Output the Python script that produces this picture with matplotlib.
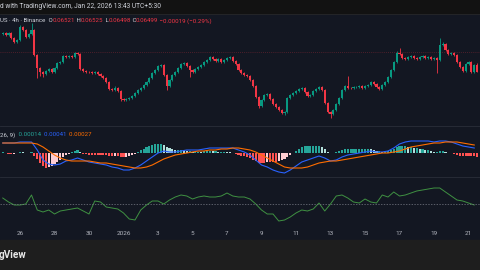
import matplotlib
matplotlib.use("Agg")
import matplotlib.pyplot as plt
import numpy as np
from matplotlib.patches import Rectangle
from matplotlib.lines import Line2D

# ---- data (4h candles, Dec 25 -> Jan 22) ----
closes = [
    0.06616, 0.06610, 0.06616, 0.06601, 0.06589, 0.06595, 0.06634, 0.06625, 0.06604, 0.06613,
    0.06625, 0.06550, 0.06511, 0.06499, 0.06493, 0.06502, 0.06508, 0.06499, 0.06511, 0.06526,
    0.06529, 0.06547, 0.06544, 0.06547, 0.06544, 0.06556, 0.06553, 0.06508, 0.06502, 0.06499,
    0.06498, 0.06496, 0.06499, 0.06493, 0.06487, 0.06481, 0.06469, 0.06448, 0.06445, 0.06451,
    0.06442, 0.06418, 0.06415, 0.06418, 0.06421, 0.06427, 0.06436, 0.06445, 0.06451, 0.06460,
    0.06469, 0.06481, 0.06496, 0.06505, 0.06517, 0.06520, 0.06490, 0.06457, 0.06475, 0.06490,
    0.06499, 0.06511, 0.06523, 0.06526, 0.06517, 0.06505, 0.06499, 0.06508, 0.06514, 0.06520,
    0.06529, 0.06535, 0.06544, 0.06538, 0.06532, 0.06538, 0.06529, 0.06535, 0.06541, 0.06544,
    0.06532, 0.06523, 0.06505, 0.06496, 0.06490, 0.06487, 0.06475, 0.06457, 0.06424, 0.06397,
    0.06415, 0.06430, 0.06433, 0.06418, 0.06403, 0.06394, 0.06385, 0.06376, 0.06379, 0.06421,
    0.06430, 0.06436, 0.06442, 0.06448, 0.06451, 0.06439, 0.06427, 0.06430, 0.06442, 0.06448,
    0.06454, 0.06445, 0.06406, 0.06379, 0.06373, 0.06385, 0.06403, 0.06421, 0.06445, 0.06457,
    0.06451, 0.06450, 0.06454, 0.06455, 0.06457, 0.06451, 0.06457, 0.06460, 0.06469, 0.06463,
    0.06454, 0.06448, 0.06460, 0.06469, 0.06484, 0.06505, 0.06529, 0.06556, 0.06553, 0.06541,
    0.06538, 0.06544, 0.06547, 0.06541, 0.06538, 0.06544, 0.06547, 0.06541, 0.06544, 0.06538,
    0.06541, 0.06535, 0.06580, 0.06583, 0.06565, 0.06553, 0.06556, 0.06550, 0.06529, 0.06514,
    0.06502, 0.06523, 0.06529, 0.06499, 0.06521, 0.06499,
]
opens = [0.06612] + closes[:-1]

# wick lengths in price ticks (0.00001)
upper_wick = [
    3, 4, 3, 3, 3, 4, 6, 3, 3, 3,
    21, 3, 3, 3, 3, 4, 3, 3, 3, 4,
    3, 4, 3, 3, 3, 4, 3, 3, 3, 3,
    3, 3, 3, 3, 3, 3, 3, 3, 3, 6,
    3, 3, 3, 3, 3, 3, 3, 3, 3, 3,
    3, 3, 3, 3, 4, 4, 3, 3, 3, 3,
    3, 3, 4, 3, 3, 3, 3, 3, 3, 3,
    3, 4, 4, 3, 3, 4, 3, 3, 3, 4,
    3, 3, 3, 3, 3, 3, 3, 3, 3, 3,
    3, 3, 4, 3, 3, 3, 3, 3, 3, 3,
    3, 3, 3, 4, 4, 3, 3, 3, 3, 3,
    4, 3, 3, 3, 3, 3, 3, 3, 4, 4,
    30, 3, 3, 3, 3, 3, 3, 3, 4, 3,
    3, 3, 3, 3, 3, 3, 4, 6, 15, 3,
    3, 3, 4, 3, 3, 3, 4, 3, 3, 3,
    3, 3, 21, 6, 3, 3, 3, 3, 3, 3,
    3, 3, 3, 3, 3, 4,
]
lower_wick = [
    3, 3, 3, 3, 4, 3, 3, 3, 3, 3,
    3, 3, 30, 12, 9, 3, 3, 4, 3, 3,
    3, 3, 3, 3, 3, 3, 3, 3, 3, 3,
    3, 3, 3, 3, 3, 3, 3, 4, 3, 3,
    3, 6, 4, 3, 3, 3, 3, 3, 3, 3,
    3, 3, 3, 3, 3, 3, 3, 12, 3, 3,
    3, 3, 3, 3, 3, 20, 3, 3, 3, 3,
    3, 3, 3, 3, 3, 3, 3, 3, 3, 3,
    3, 3, 3, 3, 3, 3, 3, 3, 3, 6,
    3, 3, 3, 3, 3, 3, 3, 3, 6, 3,
    3, 3, 3, 3, 3, 3, 3, 3, 3, 3,
    3, 3, 3, 4, 12, 3, 3, 3, 3, 3,
    3, 3, 3, 3, 3, 3, 3, 3, 3, 3,
    3, 3, 3, 3, 3, 3, 3, 3, 3, 3,
    3, 3, 3, 3, 3, 3, 3, 3, 3, 3,
    3, 39, 3, 3, 3, 3, 3, 3, 3, 3,
    3, 3, 3, 3, 3, 1,
]

# MACD (12, 26, 9) in units of 0.00001
macd_hist = [
    4, 1, -4, -4, -3, 1, 5, 4, 2, -1,
    3, -12, -24, -40, -52, -60, -56, -52, -44, -36,
    -28, -16, -8, -3, 4, 8, 12, 4, -4, -5,
    -8, -8, -8, -8, -8, -8, -9, -12, -12, -11,
    -12, -16, -16, -15, -12, -8, -4, 4, 12, 16,
    24, 28, 32, 36, 36, 36, 32, 24, 20, 16,
    12, 12, 12, 11, 8, 8, 4, 4, 5, 4,
    8, 8, 8, 7, 8, 4, 4, 5, 4, 3,
    1, -4, -8, -12, -12, -16, -20, -28, -32, -40,
    -40, -40, -36, -36, -36, -36, -32, -28, -24, -16,
    -8, 1, 8, 16, 24, 28, 28, 28, 28, 28,
    28, 24, 16, 4, 1, 2, 4, 8, 12, 16,
    16, 16, 16, 16, 16, 16, 16, 16, 15, 12,
    8, 8, 4, 8, 8, 12, 16, 24, 28, 28,
    28, 24, 24, 20, 20, 16, 16, 12, 12, 8,
    4, 4, 8, 8, 4, 1, -1, -4, -8, -12,
    -12, -12, -12, -12, -12, -16,
]
# lines sampled every second candle
macd_line = [
    40, 40, 40, 44, 44, 44, 12, -28, -44, -48,
    -44, -32, -28, -20, -28, -36, -40, -44, -48, -56,
    -60, -68, -68, -60, -48, -32, -16, 0, 8, 4,
    4, 8, 12, 12, 12, 16, 20, 20, 20, 20,
    20, 12, 4, -8, -28, -48, -56, -68, -76, -80,
    -68, -52, -36, -28, -20, -12, -20, -32, -28, -16,
    -8, -4, 0, 4, 8, 4, 4, 8, 20, 36,
    44, 48, 48, 48, 48, 44, 48, 48, 44, 36,
    28, 24, 20,
]
signal_line = [
    40, 40, 40, 40, 40, 40, 36, 24, 8, -8,
    -20, -28, -32, -32, -32, -32, -36, -40, -40, -44,
    -48, -52, -56, -60, -60, -56, -48, -36, -24, -16,
    -8, -4, 0, 4, 8, 8, 12, 12, 16, 16,
    20, 20, 16, 12, 4, -8, -20, -32, -44, -56,
    -60, -60, -60, -56, -48, -40, -36, -32, -32, -28,
    -24, -20, -16, -12, -8, -4, 0, 0, 4, 8,
    16, 24, 28, 32, 36, 40, 40, 44, 44, 44,
    40, 36, 32,
]
osc_line = [
    56, 52, 49, 49, 50, 59, 44, 42, 44, 40,
    43, 44, 45, 46, 43, 40, 53, 52, 47, 46,
    45, 41, 35, 34, 44, 49, 53, 53, 50, 54,
    57, 59, 58, 55, 57, 58, 57, 57, 58, 61,
    58, 57, 57, 55, 50, 44, 40, 40, 33, 34,
    37, 41, 44, 43, 45, 51, 43, 50, 58, 59,
    56, 52, 51, 55, 52, 51, 59, 57, 62, 58,
    59, 61, 63, 64, 65, 66, 66, 62, 58, 54,
    53, 51, 49,
]
date_labels = ["26", "28", "30", "2026", "3", "5", "7", "9", "11", "13", "15", "17", "19", "21"]
price_line = 0.06559
TICK = 0.00001

# ---- colours ----
BG = "#131722"
UP = "#089981"
DOWN = "#f23645"
TXT = "#d1d4dc"
GRID = "#2a2e39"

W, H = 480, 270
fig = plt.figure(figsize=(W / 100, H / 100), dpi=100)
fig.patch.set_facecolor(BG)
plt.rcParams['font.family'] = ['Roboto', 'DejaVu Sans']


def pane(y_top, y_bot):
    ax = fig.add_axes([0, 1 - y_bot / H, 1, (y_bot - y_top) / H])
    ax.set_facecolor(BG)
    for s in ax.spines.values():
        s.set_visible(False)
    ax.set_xticks([])
    ax.set_yticks([])
    ax.set_xlim(-0.96, 166.0)
    return ax


# ---- price pane ----
ax = pane(14, 126)
o = np.array(opens)
c = np.array(closes)
hi = np.maximum(o, c) + np.array(upper_wick) * TICK
lo = np.minimum(o, c) - np.array(lower_wick) * TICK
x = np.arange(len(c))
cols = np.where(c >= o, UP, DOWN)
ax.vlines(x, lo, hi, colors=cols, linewidth=0.6)
ax.bar(x, np.maximum(np.abs(c - o), 0.6 * TICK), bottom=np.minimum(o, c),
       width=0.72, color=cols, linewidth=0)
ax.axhline(price_line, color=DOWN, alpha=0.35, linewidth=0.6, linestyle=(0, (1, 1.5)))
ax.set_ylim(0.06337, 0.06673)

# ---- MACD pane ----
axm = pane(126, 177)
hist = np.array(macd_hist) * TICK
prev = np.concatenate([[hist[0]], hist[:-1]])
hcols = []
for h, p in zip(hist, prev):
    if h >= 0:
        hcols.append("#26a69a" if h >= p else "#b2dfdb")
    else:
        hcols.append("#ff5252" if h <= p else "#ffcdd2")
axm.bar(x, hist, width=0.72, color=hcols, linewidth=0)
xs = np.arange(0, len(c), 2)
axm.plot(xs, np.array(macd_line) * TICK, color="#2962ff", linewidth=0.8)
axm.plot(xs, np.array(signal_line) * TICK, color="#ff6d00", linewidth=0.8)
axm.set_ylim(-96 * TICK, 108 * TICK)

# ---- oscillator pane ----
axo = pane(177, 225)
axo.plot(xs, osc_line, color="#3f9142", linewidth=0.7)
axo.axhline(50, color="#787b86", linewidth=0.5, linestyle=(0, (2, 2)))
axo.set_ylim(29, 77)
axo.set_xticks(np.arange(6, 163, 12))
axo.set_xticklabels(date_labels)
axo.tick_params(axis="x", length=0, pad=4.5, labelsize=4.6, labelcolor="#b2b5be")

# pane separators
for yy in (126, 177):
    fig.add_artist(Line2D([0, 1], [1 - yy / H, 1 - yy / H], color=GRID, linewidth=0.6))

# ---- header ----
fig.add_artist(Rectangle((0, 1 - 13 / H), 1, 13 / H, color="#121212", zorder=0))
fig.add_artist(Line2D([0, 1], [1 - 13.5 / H, 1 - 13.5 / H], color="#2a2a2a", linewidth=0.5))
fig.text(0.0, 1 - 7 / H, "d with TradingView.com, Jan 22, 2026 13:43 UTC+5:30",
         color=TXT, fontsize=4.8, va="center", ha="left")


def text_row(owner, parts, x0, y0, size):
    prev = None
    for s, col in parts:
        if prev is None:
            prev = owner.annotate(s, xy=(x0, y0), xycoords="figure fraction", color=col,
                                  fontsize=size, va="center", ha="left", annotation_clip=False)
        else:
            prev = owner.annotate(s, xy=(1, 0.5), xycoords=prev, color=col,
                                  fontsize=size, va="center", ha="left", annotation_clip=False)


text_row(ax, [("US · 4h · Binance ", TXT), (" O", TXT), ("0.06521", DOWN), (" H", TXT),
              ("0.06525", DOWN), (" L", TXT), ("0.06498", DOWN), (" C", TXT), ("0.06499", DOWN),
              (" \u22120.00019 (\u22120.29%)", DOWN)], 0.0, 1 - 21 / H, 4.4)

text_row(axm, [("26, 9) ", TXT), (" 0.00014", "#26a69a"), ("  0.00041", "#2962ff"),
               ("  0.00027", "#ff6d00")], 0.0, 1 - 135 / H, 4.4)

# ---- footer ----
fig.add_artist(Rectangle((0, 0), 1, 30 / H, color="#1e1e1e", zorder=0))
fig.text(-0.002, 15 / H, "gView", color="#e8e8e8", fontsize=7.2, fontweight="bold",
         va="center", ha="left")

fig.savefig("out.png", dpi=100, facecolor=fig.get_facecolor())
